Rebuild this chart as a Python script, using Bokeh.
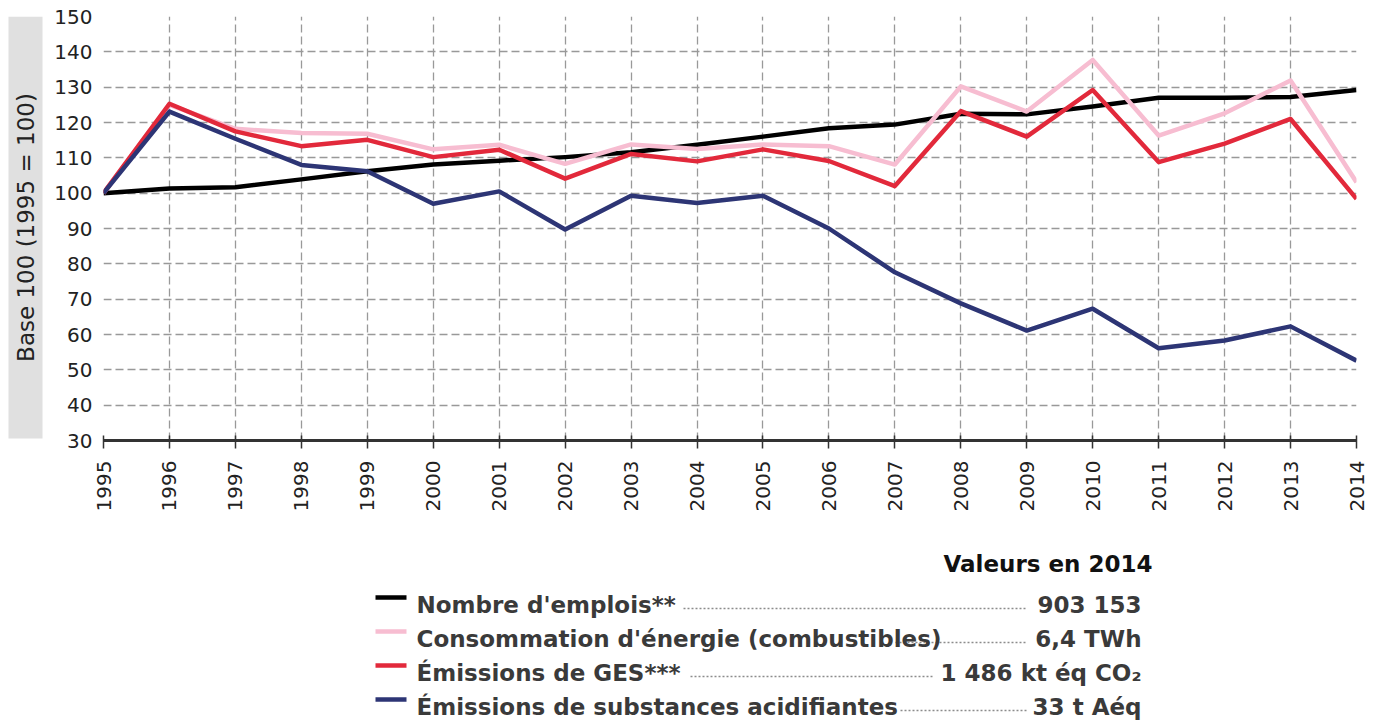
import math
from bokeh.plotting import figure
from bokeh.models import Range1d, SingleIntervalTicker
from bokeh.layouts import column, row
from bokeh.core.properties import value
from bokeh.embed import file_html
from bokeh.resources import INLINE

years = list(range(1995, 2015))
emplois = [100, 101.3, 101.7, 103.9, 106.2, 108.1, 109.2, 110.2, 111.6, 113.7,
           116.0, 118.4, 119.4, 122.5, 122.3, 124.5, 127.0, 127.0, 127.2, 129.2]
energie = [100, 125.0, 118.2, 117.0, 116.8, 112.4, 113.7, 108.3, 113.8, 112.5,
           113.8, 113.3, 108.1, 130.2, 123.1, 137.7, 116.3, 122.6, 131.9, 103.1]
ges = [100, 125.3, 117.5, 113.3, 115.1, 110.2, 112.3, 104.1, 111.1, 109.0,
       112.4, 109.1, 102.0, 123.2, 116.0, 129.2, 108.8, 114.0, 121.0, 98.4]
acid = [100, 123.1, 115.4, 108.0, 106.2, 97.0, 100.5, 89.7, 99.3, 97.2,
        99.3, 90.0, 77.6, 68.8, 61.1, 67.3, 56.1, 58.3, 62.3, 52.6]

series_names = ["Nombre d'emplois**", "Consommation d'énergie (combustibles)",
                "Émissions de GES***", "Émissions de substances acidifiantes"]
series_values_2014 = ["903 153", "6,4 TWh", "1 486 kt éq CO₂", "33 t Aéq"]
series_colors = ["#000000", "#f7bdd1", "#e2293b", "#2d3575"]
y_label = "Base 100 (1995 = 100)"
legend_title = "Valeurs en 2014"

FONT = "DejaVu Sans"


def blank(fig):
    fig.axis.visible = False
    fig.grid.visible = False
    fig.outline_line_color = None
    fig.min_border = 0
    fig.background_fill_color = "white"
    fig.border_fill_color = "white"


# ---- y-axis label panel (grey box); its frame is aligned with the chart frame ----
lab = figure(width=50, height=530, output_backend="svg", toolbar_location=None,
             x_range=Range1d(0, 50), y_range=Range1d(0, 424))
blank(lab)
lab.quad(left=[8], right=[42], top=[424], bottom=[2], fill_color="#e0e0e0", line_color=None)
lab.text(x=[25], y=[213], text=[y_label], angle=math.pi / 2, text_align="center",
         text_baseline="middle", text_font=value(FONT), text_font_size="23px",
         text_color="#222222")

# ---- main chart ----
p = figure(width=1328, height=530, output_backend="svg", toolbar_location=None,
           x_range=Range1d(1995, 2014), y_range=Range1d(30, 150))
p.min_border_left = 53
p.min_border_right = 22
p.min_border_top = 16
p.min_border_bottom = 90
p.outline_line_color = None
p.background_fill_color = "white"
p.border_fill_color = "white"

for vals, col in zip([emplois, energie, ges, acid], series_colors):
    p.line(years, vals, line_color=col, line_width=4.5, line_join="round")

p.xaxis.ticker = SingleIntervalTicker(interval=1)
p.yaxis.ticker = SingleIntervalTicker(interval=10)
p.xaxis.major_label_orientation = math.pi / 2
p.xaxis.axis_line_color = "#333333"
p.xaxis.axis_line_width = 3
p.xaxis.major_tick_line_color = "#333333"
p.xaxis.major_tick_line_width = 1.5
p.xaxis.major_tick_in = 5
p.xaxis.major_tick_out = 8
p.xaxis.minor_tick_line_color = None
p.xaxis.major_label_standoff = 12
p.xaxis.major_label_text_font = FONT
p.xaxis.major_label_text_font_size = "20px"
p.xaxis.major_label_text_color = "#222222"

p.yaxis.axis_line_color = None
p.yaxis.major_tick_line_color = None
p.yaxis.minor_tick_line_color = None
p.yaxis.major_tick_out = 0
p.yaxis.major_tick_in = 0
p.yaxis.major_label_standoff = 7
p.yaxis.major_label_text_font = FONT
p.yaxis.major_label_text_font_size = "20px"
p.yaxis.major_label_text_color = "#222222"

for g in (p.xgrid, p.ygrid):
    g.grid_line_color = "#999999"
    g.grid_line_width = 1.3
    g.grid_line_dash = "8 4"
p.xgrid.ticker = SingleIntervalTicker(interval=1)
p.ygrid.ticker = SingleIntervalTicker(interval=10)

# ---- legend panel ----
leg = figure(width=1378, height=193, output_backend="svg", toolbar_location=None,
             x_range=Range1d(0, 1378), y_range=Range1d(0, 193))
blank(leg)
leg.text(x=[1152], y=[160], text=[legend_title], text_align="right",
         text_baseline="alphabetic", text_font=value(FONT), text_font_style="bold",
         text_font_size="23px", text_color="#111111")

row_base = [119, 85, 51, 17]
leader_start = [683, 895, 690, 900]
leader_end = [1025, 1027, 932, 1027]
for i in range(4):
    yb = row_base[i]
    leg.line(x=[375, 406], y=[yb + 7, yb + 7], line_color=series_colors[i], line_width=4.5)
    leg.line(x=[leader_start[i], leader_end[i]], y=[yb - 4, yb - 4], line_color="#8c8c8c",
             line_width=1.5, line_dash="2 2")
leg.text(x=[416] * 4, y=row_base, text=series_names, text_align="left",
         text_baseline="alphabetic", text_font=value(FONT), text_font_style="bold",
         text_font_size="23px", text_color="#3a3a3a")
leg.text(x=[1141] * 4, y=row_base, text=series_values_2014, text_align="right",
         text_baseline="alphabetic", text_font=value(FONT), text_font_style="bold",
         text_font_size="23px", text_color="#3a3a3a")

layout = column(row(lab, p, spacing=0), leg, spacing=0)
open("out.html", "w").write(file_html(layout, INLINE))
